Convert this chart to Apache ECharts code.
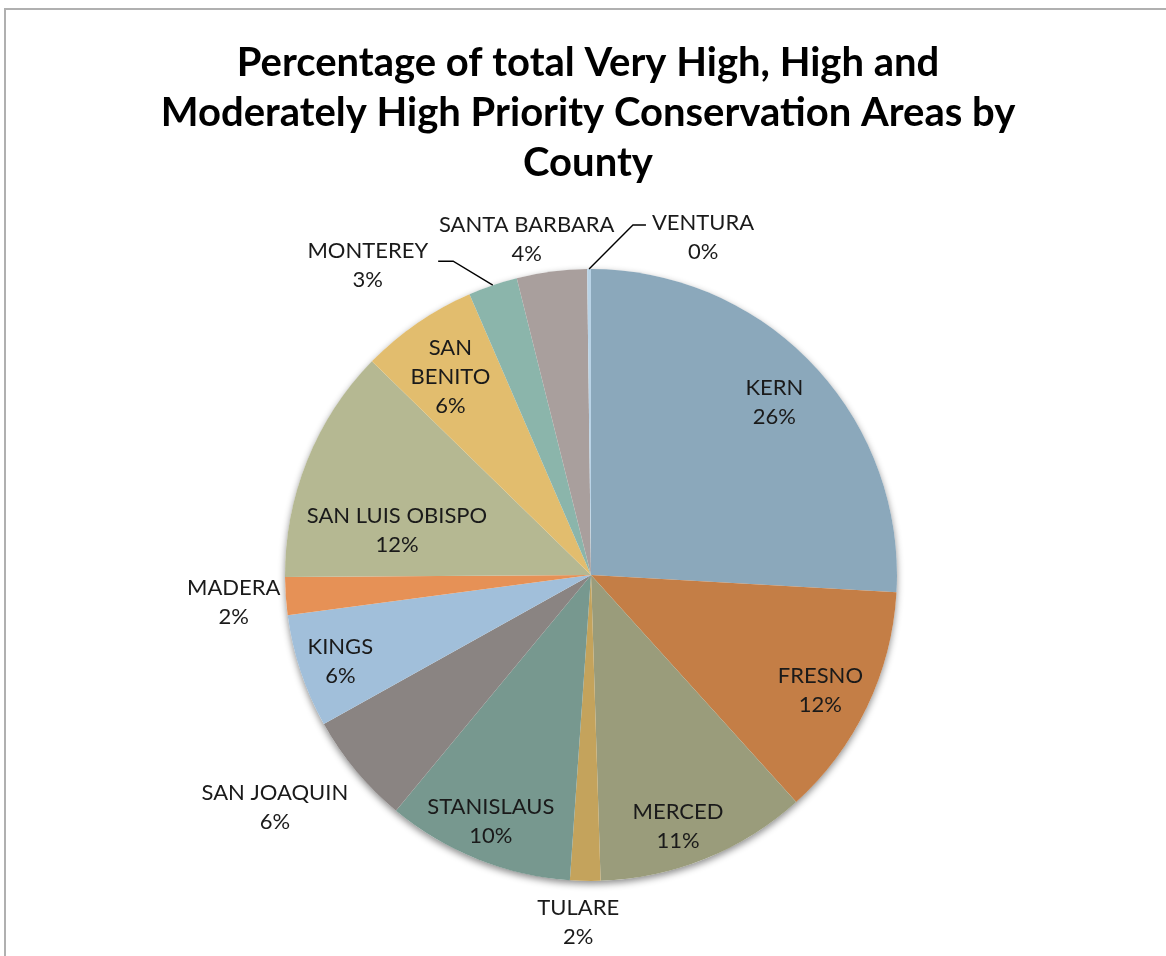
<!DOCTYPE html>
<html>
<head>
<meta charset="utf-8">
<title>Priority Conservation Areas by County</title>
<script src="https://cdn.jsdelivr.net/npm/echarts@6/dist/echarts.min.js"></script>
<style>
  html, body { margin: 0; padding: 0; background: #ffffff; }
  #chart { width: 1166px; height: 956px; }
</style>
</head>
<body>
<div id="chart"></div>
<script>
// Counties, clockwise from 12 o'clock
const counties = ['KERN', 'FRESNO', 'MERCED', 'TULARE', 'STANISLAUS', 'SAN JOAQUIN', 'KINGS',
  'MADERA', 'SAN LUIS OBISPO', 'SAN BENITO', 'MONTEREY', 'SANTA BARBARA', 'VENTURA'];
// Share of total priority conservation area (percent)
const shares = [25.9, 12.4, 11.2, 1.6, 9.9, 5.9, 6.0, 2.0, 12.4, 6.2, 2.6, 3.7, 0.2];
const sliceColors = ['#8ba8bb', '#c47e46', '#9a9c7b', '#c4a35c', '#77988f', '#8a8482', '#a1bfda',
  '#e69156', '#b5b892', '#e2bd6e', '#8bb5ab', '#a99f9d', '#b9d3e6'];

const titleText = 'Percentage of total Very High, High and\nModerately High Priority Conservation Areas by\nCounty';
// Names that wrap onto more lines inside their slice
const wrappedNames = { 'SAN BENITO': 'SAN\nBENITO' };

// Small nudges (px) for labels kept inside their slices
const insideNudge = {
  'KERN': [-7, 7], 'FRESNO': [-7, 2], 'MERCED': [-11, 8], 'STANISLAUS': [-3, 3],
  'KINGS': [-2, 4], 'SAN LUIS OBISPO': [49, 53], 'SAN BENITO': [8, 18]
};
// Labels set outside the pie: offset of the text block centre from the slice's rim anchor
const outsideOffset = {
  'TULARE': [-7, 41], 'SAN JOAQUIN': [-81, 37], 'MADERA': [-52, 6],
  'MONTEREY': [-125, -20], 'SANTA BARBARA': [-25, -32], 'VENTURA': [114, -32]
};
// Leader lines: gap to the text, horizontal run, vertical offset from the block centre
const leaders = {
  'MONTEREY': { gap: 10, run: 15, dy: -4 },
  'VENTURA': { gap: 6, run: 13, dy: -12 }
};

const FONT = 'Lato, "Open Sans", sans-serif';
const CENTER = [591, 575];
const RADIUS = 306;

const total = shares.reduce((a, b) => a + b, 0);

const sliceData = counties.map((name, i) => ({
  name: name, value: shares[i], itemStyle: { color: sliceColors[i] }
}));

const labelData = counties.map((name, i) => {
  const outside = Object.prototype.hasOwnProperty.call(outsideOffset, name);
  return {
    name: name, value: shares[i],
    label: { position: outside ? 'outside' : 'inside' },
    labelLine: { show: outside }
  };
});

function placeLabel(p) {
  const name = counties[p.dataIndex];
  const r = p.labelRect;
  if (insideNudge[name]) {
    const n = insideNudge[name];
    return { x: r.x + r.width / 2 + n[0], y: r.y + r.height / 2 + n[1], align: 'center', verticalAlign: 'middle' };
  }
  const off = outsideOffset[name];
  if (!off) return {};
  const pts = p.labelLinePoints;
  const p0 = pts && pts[0] ? pts[0] : [r.x + r.width / 2, r.y + r.height / 2];
  const cx = p0[0] + off[0];
  const cy = p0[1] + off[1];
  let line = [p0.slice(), p0.slice(), p0.slice()];
  const L = leaders[name];
  if (L) {
    const side = off[0] < 0 ? -1 : 1;
    const edgeX = cx - side * r.width / 2;
    const endX = edgeX - side * L.gap;
    const y = cy + L.dy;
    line = [p0.slice(), [endX - side * L.run, y], [endX, y]];
  }
  return { x: cx, y: cy, align: 'center', verticalAlign: 'middle', labelLinePoints: line };
}

const chart = echarts.init(document.getElementById('chart'), null, { renderer: 'canvas' });

chart.setOption({
  backgroundColor: '#ffffff',
  animation: false,
  title: {
    text: titleText,
    left: 583,
    top: 33,
    textAlign: 'center',
    textStyle: { fontFamily: FONT, fontSize: 40, fontWeight: 'bold', color: '#000000', lineHeight: 50 }
  },
  graphic: [{
    type: 'rect', silent: true, z: -1,
    shape: { x: 5, y: 9, width: 1200, height: 1000 },
    style: { fill: 'none', stroke: '#b0b0b0', lineWidth: 2 }
  }],
  series: [
    {
      // soft drop shadow behind the whole disc
      type: 'pie', z: 1, silent: true, center: CENTER, radius: RADIUS,
      startAngle: 90, label: { show: false }, labelLine: { show: false },
      emphasis: { disabled: true },
      itemStyle: { color: '#ffffff', borderWidth: 0, shadowBlur: 7, shadowOffsetY: 3, shadowColor: 'rgba(0,0,0,0.45)' },
      data: [{ name: 'all', value: total }]
    },
    {
      type: 'pie', z: 2, silent: true, center: CENTER, radius: RADIUS,
      startAngle: 90, clockwise: true,
      label: { show: false }, labelLine: { show: false },
      emphasis: { disabled: true },
      itemStyle: { borderWidth: 0 },
      data: sliceData
    },
    {
      // label carrier: same slices, transparent, labels at mid ring
      type: 'pie', z: 3, silent: true, center: CENTER, radius: [212, RADIUS],
      startAngle: 90, clockwise: true, avoidLabelOverlap: false,
      emphasis: { disabled: true },
      itemStyle: { color: 'rgba(0,0,0,0)', borderWidth: 0 },
      label: {
        show: true,
        fontFamily: FONT, fontSize: 22, color: '#1a1a1a', lineHeight: 29,
        formatter: function (p) {
          const shown = wrappedNames[p.name] || p.name;
          return shown + '\n' + Math.round(p.percent) + '%';
        }
      },
      labelLine: { show: true, length: 10, length2: 10, lineStyle: { color: '#000000', width: 1.4 } },
      labelLayout: placeLabel,
      data: labelData
    }
  ]
});
</script>
</body>
</html>
